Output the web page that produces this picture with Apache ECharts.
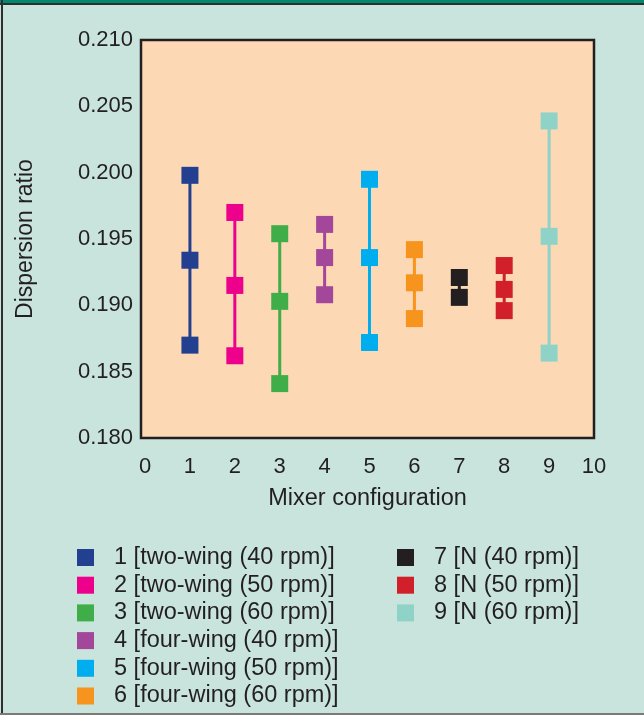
<!DOCTYPE html>
<html><head><meta charset="utf-8">
<script src="https://cdn.jsdelivr.net/npm/echarts@6/dist/echarts.min.js"></script>
<style>html,body{margin:0;padding:0;background:#c8e4dc}#c{width:644px;height:715px}</style>
</head><body><div id="c"></div>
<script>
const configs = [1, 2, 3, 4, 5, 6, 7, 8, 9];
const labels = [
  '1 [two-wing (40 rpm)]', '2 [two-wing (50 rpm)]', '3 [two-wing (60 rpm)]',
  '4 [four-wing (40 rpm)]', '5 [four-wing (50 rpm)]', '6 [four-wing (60 rpm)]',
  '7 [N (40 rpm)]', '8 [N (50 rpm)]', '9 [N (60 rpm)]'
];
const maxVals  = [0.1998, 0.1970, 0.1954, 0.1961, 0.1995, 0.1942, 0.1921, 0.1930, 0.2039];
const meanVals = [0.1934, 0.1915, 0.1903, 0.1936, 0.1936, 0.1917, null,   0.1912, 0.1952];
const minVals  = [0.1870, 0.1862, 0.1841, 0.1908, 0.1872, 0.1890, 0.1906, 0.1896, 0.1864];
const colors = ['#233f8f', '#ec008c', '#3fae49', '#a3479a', '#00aeef', '#f7941d', '#231f20', '#d2202a', '#8fd3c8'];
const xTicks = [0, 1, 2, 3, 4, 5, 6, 7, 8, 9, 10];

const TXT = '#231f20';
const FONT = '"Liberation Sans", Arial, sans-serif';

const series = configs.map((c, i) => {
  const pts = [[c, minVals[i]], [c, meanVals[i]], [c, maxVals[i]]].filter(p => p[1] !== null);
  return {
    name: labels[i], type: 'line', data: pts,
    symbol: 'rect', symbolSize: 17,
    itemStyle: { color: colors[i] },
    lineStyle: { color: colors[i], width: 3 },
    emphasis: { disabled: true }, animation: false
  };
});

const legendBase = {
  orient: 'vertical', top: 545.5, height: 300, padding: 0,
  itemWidth: 17, itemHeight: 17, itemGap: 3.7,
  icon: 'rect', selectedMode: false,
  textStyle: { fontSize: 23.5, fontFamily: FONT, color: TXT, lineHeight: 23, padding: [0, 0, 0, 15] }
};

const chart = echarts.init(document.getElementById('c'), null, { renderer: 'canvas' });
chart.setOption({
  backgroundColor: '#c8e4dc',
  animation: false,
  color: colors,
  textStyle: { fontFamily: FONT },
  grid: { left: 141, top: 40, right: 50, bottom: 277, show: true, backgroundColor: '#fdd8b4', borderColor: '#231f20', borderWidth: 2.5 },
  xAxis: {
    type: 'value', min: -0.09, max: 10,
    name: 'Mixer configuration', nameLocation: 'middle', nameGap: 49,
    nameTextStyle: { fontSize: 23.5, color: TXT, fontFamily: FONT },
    axisLine: { show: false }, axisTick: { show: false }, splitLine: { show: false },
    axisLabel: { customValues: xTicks, fontSize: 22, color: TXT, margin: 18, fontFamily: FONT }
  },
  yAxis: {
    type: 'value', min: 0.18, max: 0.21, interval: 0.005,
    name: 'Dispersion ratio', nameLocation: 'middle', nameGap: 104,
    nameTextStyle: { fontSize: 23, color: TXT, fontFamily: FONT },
    axisLine: { show: false }, axisTick: { show: false }, splitLine: { show: false },
    axisLabel: { formatter: v => v.toFixed(3), fontSize: 22, color: TXT, margin: 8, fontFamily: FONT }
  },
  legend: [
    Object.assign({}, legendBase, { left: 77, data: labels.slice(0, 6) }),
    Object.assign({}, legendBase, { left: 397, data: labels.slice(6) })
  ],
  graphic: [
    { type: 'rect', shape: { x: 0, y: 0, width: 644, height: 3 }, style: { fill: '#00896e' } },
    { type: 'rect', shape: { x: 0, y: 3, width: 644, height: 2 }, style: { fill: '#2e2e2e' } },
    { type: 'rect', shape: { x: 1, y: 0, width: 2, height: 715 }, style: { fill: '#2e2e2e' } },
    { type: 'rect', shape: { x: 0, y: 713, width: 644, height: 2 }, style: { fill: '#7a7a7a' } }
  ],
  series: series
});
</script></body></html>
